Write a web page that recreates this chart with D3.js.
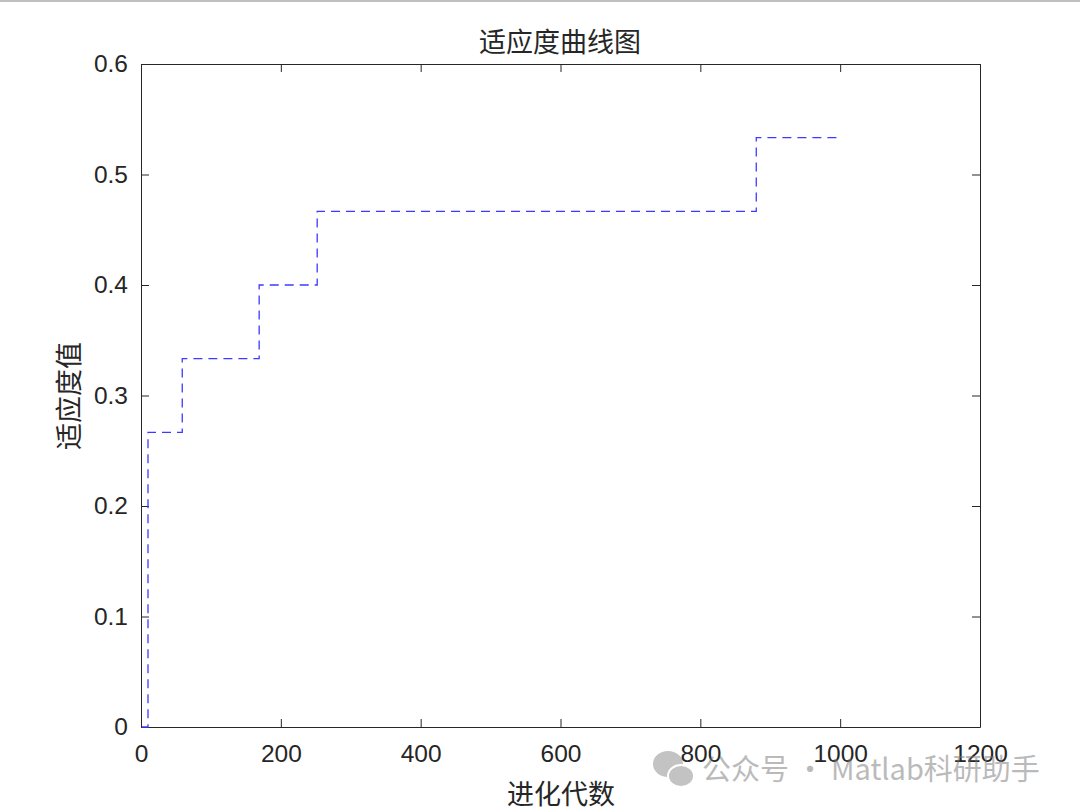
<!DOCTYPE html>
<html><head><meta charset="utf-8">
<script src="https://cdn.jsdelivr.net/npm/d3@7"></script>
<style>body{margin:0;background:#fff;}svg{display:block;}</style>
</head><body>
<script>
const generations = [1, 10, 59, 169, 252, 880, 1000];
const fitness = [0, 0.2667, 0.3333, 0.4, 0.4667, 0.5333, 0.5333];
const xTicks = [0, 200, 400, 600, 800, 1000, 1200];
const yTicks = [0, 0.1, 0.2, 0.3, 0.4, 0.5, 0.6];
const title = "适应度曲线图", xLabel = "进化代数", yLabel = "适应度值";

const W = 1080, H = 812;
const m = {l: 141, t: 64, r: 980, b: 727};
const svg = d3.select("body").append("svg").attr("width", W).attr("height", H);
svg.append("rect").attr("width", W).attr("height", H).attr("fill", "#fff");
svg.append("line").attr("x1",0).attr("x2",W).attr("y1",1).attr("y2",1).attr("stroke","#aaa").attr("stroke-width",1.5);

const x = d3.scaleLinear().domain([0, 1200]).range([m.l, m.r]);
const y = d3.scaleLinear().domain([0, 0.6]).range([m.b, m.t]);
const axisColor = "#262626";
const font = "Liberation Sans, Arial, sans-serif";
const cjk = "Noto Sans CJK SC, sans-serif";

function styleAxis(g, labels) {
  g.select(".domain").attr("stroke", axisColor);
  g.selectAll(".tick line").attr("stroke", axisColor);
  g.selectAll(".tick text").attr("fill", axisColor).style("font-family", font).style("font-size", "24.5px");
  if (!labels) g.selectAll(".tick text").remove();
}
const gb = svg.append("g").attr("transform", `translate(0,${m.b})`)
  .call(d3.axisBottom(x).tickValues(xTicks).tickSizeInner(-8).tickSizeOuter(0).tickPadding(18).tickFormat(d3.format("d")));
styleAxis(gb, true);
const gt = svg.append("g").attr("transform", `translate(0,${m.t})`)
  .call(d3.axisTop(x).tickValues(xTicks).tickSizeInner(-8).tickSizeOuter(0));
styleAxis(gt, false);
const gl = svg.append("g").attr("transform", `translate(${m.l},0)`)
  .call(d3.axisLeft(y).tickValues(yTicks).tickSizeInner(-8).tickSizeOuter(0).tickPadding(13)
  .tickFormat(d => d === 0 ? "0" : d3.format(".1f")(d)));
styleAxis(gl, true);
const gr = svg.append("g").attr("transform", `translate(${m.r},0)`)
  .call(d3.axisRight(y).tickValues(yTicks).tickSizeInner(-8).tickSizeOuter(0));
styleAxis(gr, false);

const data = generations.map((g, i) => ({g, v: fitness[i]}));
const line = d3.line().x(d => x(d.g)).y(d => y(d.v)).curve(d3.curveStepAfter);
svg.append("path").datum(data).attr("d", line).attr("fill", "none")
  .attr("stroke", "#3b3bff").attr("stroke-width", 1.3).attr("stroke-dasharray", "9,6");

svg.append("text").attr("x", 560).attr("y", 52).attr("text-anchor", "middle")
  .style("font-family", cjk).style("font-size", "27px").attr("fill", "#262626").text(title);
svg.append("text").attr("x", 561).attr("y", 804).attr("text-anchor", "middle")
  .style("font-family", cjk).style("font-size", "27px").attr("fill", "#262626").text(xLabel);
svg.append("text").attr("transform", `translate(79,${396}) rotate(-90)`).attr("text-anchor", "middle")
  .style("font-family", cjk).style("font-size", "27px").attr("fill", "#262626").text(yLabel);

// watermark
const wm = svg.append("g").attr("opacity", 0.5);
wm.append("ellipse").attr("cx", 668).attr("cy", 764).attr("rx", 15).attr("ry", 13).attr("fill", "#888");
wm.append("ellipse").attr("cx", 681).attr("cy", 776).attr("rx", 13).attr("ry", 11).attr("fill", "#888").attr("stroke","#fff").attr("stroke-width",2);
wm.append("text").attr("x", 702).attr("y", 780).style("font-family", cjk).style("font-size", "29px")
  .attr("fill", "#777").text("公众号 · Matlab科研助手");
</script>
</body></html>
